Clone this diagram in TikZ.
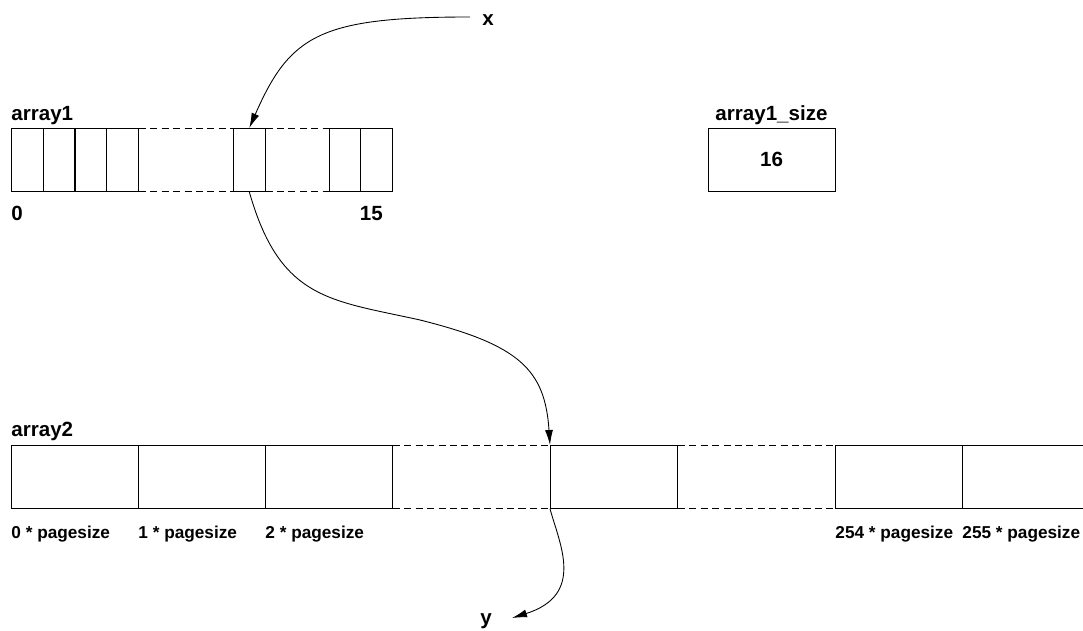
\documentclass[tikz,border=0pt]{standalone}
\usepackage{fontspec}
\setmainfont{Liberation Sans}
\usetikzlibrary{arrows.meta}

\begin{document}
\begin{tikzpicture}[
          x=0.02cm, y=-0.02cm, line width=0.5pt,
          cell/.style={draw, anchor=north west, inner sep=0pt, minimum width=0.635cm, minimum height=1.26cm},
          page/.style={draw, anchor=north west, inner sep=0pt, minimum width=2.54cm, minimum height=1.26cm},
          lbl/.style={anchor=base west, inner sep=0pt, font=\fontsize{11.7}{14}\selectfont\bfseries},
          idx/.style={anchor=base west, inner sep=0pt, font=\fontsize{9.8}{12}\selectfont\bfseries},
          gap/.style={dash pattern=on 4pt off 2.5pt},
          arr/.style={-{Latex[length=3mm, width=1.6mm]}}
      ]
        \clip (0,0) rectangle (1083,631);
        % array1
        \node[lbl] (a1) at (11,121) {array1};
        \node[cell] (c1) at (11,128) {};
        \node[cell] (c2) at (42.75,128) {};
        \node[cell] (c3) at (74.5,128) {};
        \node[cell] (c4) at (106.25,128) {};
        \node[cell] (c5) at (233,128) {};
        \node[cell] (c6) at (328.5,128) {};
        \node[cell] (c7) at (360.25,128) {};
        \draw[gap] (c4.north east) -- (c5.north west) (c4.south east) -- (c5.south west);
        \draw[gap] (c5.north east) -- (c6.north west) (c5.south east) -- (c6.south west);
        \node[lbl] (i0) at (11,221) {0};
        \node[lbl] (i15) at (359.5,221) {15};
        % size
        \node[lbl, anchor=base] (sl) at (771.5,121) {array1\_size};
        \node[draw, minimum width=2.54cm, minimum height=1.26cm, font=\fontsize{11.7}{14}\selectfont\bfseries] (sz) at (771.5,159.5) {16};
        % array2
        \node[lbl] (a2) at (11,437) {array2};
        \node[page] (p1) at (11,445) {};
        \node[page] (p2) at (138,445) {};
        \node[page] (p3) at (265,445) {};
        \node[page] (p4) at (550,445) {};
        \node[page] (p5) at (835,445) {};
        \node[page] (p6) at (962,445) {};
        \draw[gap] (p3.north east) -- (p4.north west) (p3.south east) -- (p4.south west);
        \draw[gap] (p4.north east) -- (p5.north west) (p4.south east) -- (p5.south west);
        \node[idx] (o0) at (11,539) {0 * pagesize};
        \node[idx] (o1) at (138,539) {1 * pagesize};
        \node[idx] (o2) at (265,539) {2 * pagesize};
        \node[idx] (o254) at (835,539) {254 * pagesize};
        \node[idx] (o255) at (962,539) {255 * pagesize};
        % pointers
        \node[lbl] (xl) at (482,26) {x};
        \node[lbl] (yl) at (480,625) {y};
        \coordinate (xs) at (470,17);
        \coordinate (ye) at (512,618);
        \draw[arr] (xs) .. controls (320,17) and (290,35) .. (c5.north);
        \draw[arr] (c5.south) .. controls (280,300) and (330,300) .. (420,320)
                   .. controls (520,345) and (545,370) .. (p4.north west);
        \draw[arr] (p4.south west) .. controls (560,545) and (585,595) .. (ye);
\end{tikzpicture}
\end{document}
